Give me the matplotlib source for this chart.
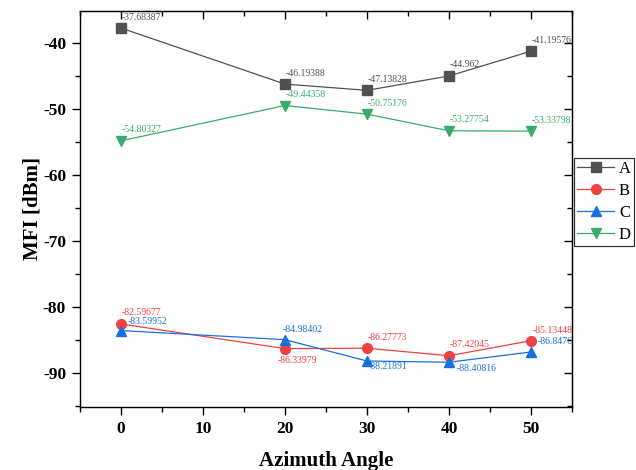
import matplotlib.pyplot as plt
from matplotlib.ticker import MultipleLocator

plt.rcParams['font.family'] = ['Liberation Serif', 'DejaVu Serif']
plt.rcParams['axes.unicode_minus'] = False

angles = [0, 20, 30, 40, 50]
A = [-37.68387, -46.19388, -47.13828, -44.962, -41.19576]
B = [-82.59677, -86.33979, -86.27773, -87.42045, -85.13448]
C = [-83.59952, -84.98402, -88.21891, -88.40816, -86.8476]
D = [-54.80327, -49.44358, -50.75176, -53.27754, -53.33798]
names = ['A', 'B', 'C', 'D']

colors = ['#515151', '#F14040', '#1A6FDF', '#37AD6B']
markers = ['s', 'o', '^', 'v']

# label offsets in pixels (dx, dy), text left-aligned
offsets = {
    'A': [(1, 11)] * 5,
    'B': [(1, 11), (-7, -12), (1, 11), (1, 11), (2, 10)],
    'C': [(7, 9), (-2, 10), (1, -5), (8, -6), (7, 10)],
    'D': [(1, 11)] * 5,
}

fig = plt.figure(figsize=(6.36, 4.70), dpi=100)
ax = fig.add_axes([80 / 636, 1 - 407 / 470, 492 / 636, 396 / 470])

series = [A, B, C, D]
for name, vals, col, mk in zip(names, series, colors, markers):
    ax.plot(angles, vals, color=col, marker=mk, markersize=7, linewidth=0.9, label=name)
    for xv, yv, (dx, dy) in zip(angles, vals, offsets[name]):
        ax.annotate(f"{yv}", (xv, yv), xytext=(dx * 0.72, dy * 0.72),
                    textcoords='offset points', ha='left', va='center',
                    fontsize=7, color=col)

ax.set_xlim(-5, 55)
ax.set_ylim(-95.2, -35.1)
ax.xaxis.set_major_locator(MultipleLocator(10))
ax.xaxis.set_minor_locator(MultipleLocator(5))
ax.yaxis.set_major_locator(MultipleLocator(10))
ax.yaxis.set_minor_locator(MultipleLocator(5))

ax.tick_params(which='major', direction='out', length=6, width=1, labelsize=12.5, pad=4)
ax.tick_params(which='minor', direction='out', length=3.5, width=1)
for lab in ax.get_xticklabels() + ax.get_yticklabels():
    lab.set_fontweight('bold')

for s in ax.spines.values():
    s.set_linewidth(1.0)

# mirrored ticks on top and right, pointing inward
top = ax.secondary_xaxis('top')
top.xaxis.set_major_locator(MultipleLocator(10))
top.xaxis.set_minor_locator(MultipleLocator(5))
top.tick_params(which='major', direction='in', length=6, width=1, labeltop=False)
top.tick_params(which='minor', direction='in', length=3.5, width=1)
right = ax.secondary_yaxis('right')
right.yaxis.set_major_locator(MultipleLocator(10))
right.yaxis.set_minor_locator(MultipleLocator(5))
right.tick_params(which='major', direction='in', length=6, width=1, labelright=False)
right.tick_params(which='minor', direction='in', length=3.5, width=1)

ax.set_xlabel('Azimuth Angle', fontsize=15, fontweight='bold', labelpad=10)
ax.set_ylabel('MFI [dBm]', fontsize=15, fontweight='bold', labelpad=0)

leg = fig.legend(loc='upper left', bbox_to_anchor=(574 / 636, 1 - 158 / 470),
                 fontsize=12, frameon=True, fancybox=False, edgecolor='black',
                 handlelength=2.2, borderpad=0.2, labelspacing=0.35,
                 handletextpad=0.3, borderaxespad=0)
leg.get_frame().set_linewidth(0.9)

fig.savefig('out.png', dpi=100)
